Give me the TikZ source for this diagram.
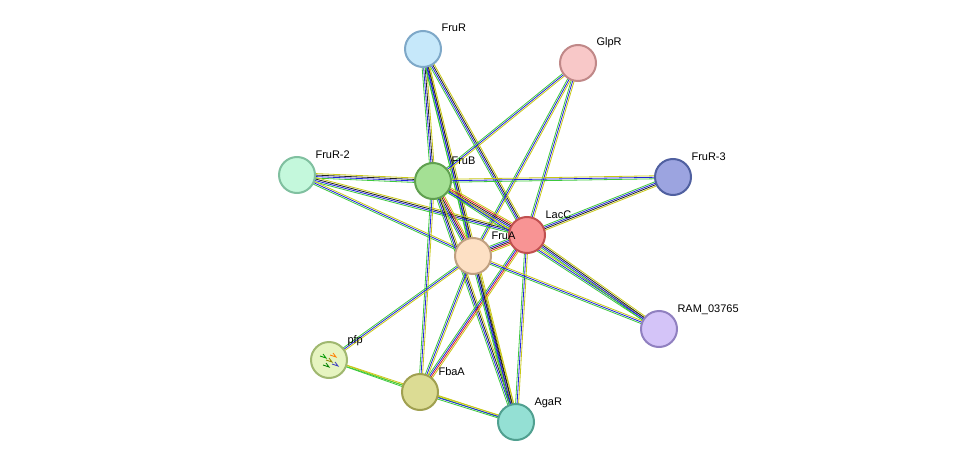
\documentclass[tikz,border=0pt]{standalone}
\usepackage{fontspec}
\setmainfont{Liberation Sans}
\usetikzlibrary{calc}
\pgfdeclarelayer{bg}\pgfsetlayers{bg,main}
\definecolor{G}{HTML}{3CC83C}\definecolor{B}{HTML}{2020E0}\definecolor{K}{HTML}{202020}
\definecolor{Y}{HTML}{C8C814}\definecolor{R}{HTML}{E02020}
\newcommand\edg[4]{\foreach \c [count=\i] in {#4}{\pgfmathsetmacro\o{(\i-(#3+1)/2)*1.5}\draw[\c,line width=0.8pt] ($(#1)!\o pt!90:(#2)$) -- ($(#2)!\o pt!-90:(#1)$);}}
\tikzset{prot/.style 2 args={circle,minimum size=36pt,inner sep=0,line width=2pt,fill=#1,draw=#2},
 lab/.style={font=\fontsize{11}{13}\selectfont,anchor=base west}}
\begin{document}
\begin{tikzpicture}[x=1pt,y=-1pt]
\useasboundingbox (0,0) rectangle (976,468);
\def\nd#1#2#3#4#5#6{\definecolor{f#1}{HTML}{#4}\definecolor{d#1}{HTML}{#5}\node[prot={f#1}{d#1}] (#1) at (#2,#3) {}; \node[lab] (#1l) at (#2+15,#3-17) {#6};}
\nd{frur}{423}{49}{C6E8FA}{7EA8C8}{FruR}
\nd{glpr}{578}{63}{F8C8C8}{C08888}{GlpR}
\nd{frur2}{297}{175}{C4F8DC}{80C0A0}{FruR-2}
\nd{frub}{433}{181}{A4E094}{60A050}{FruB}
\nd{frur3}{673}{177}{9CA4E0}{5060A0}{FruR-3}
\nd{lacc}{527}{235}{F89494}{C05050}{LacC}
\nd{frua}{473}{256}{FDE0C4}{C0A080}{FruA}
\nd{ram}{659}{329}{D4C4F8}{9080C0}{RAM\_03765}
\nd{pfp}{329}{360}{E6F4C0}{A0B870}{pfp}
\nd{fbaa}{420}{392}{DCDC94}{A0A050}{FbaA}
\nd{agar}{516}{422}{94E0D4}{50A090}{AgaR}
\begin{pgfonlayer}{bg}
\edg{frur}{frub}{4}{G,B,K,Y}
\edg{frur}{lacc}{4}{G,B,K,Y}
\edg{frur}{frua}{3}{G,B,Y}
\edg{frur}{agar}{4}{G,B,K,Y}
\edg{glpr}{frub}{3}{G,B,Y}
\edg{glpr}{lacc}{3}{G,B,Y}
\edg{glpr}{frua}{3}{G,B,Y}
\edg{frur2}{frub}{4}{G,B,K,Y}
\edg{frur2}{lacc}{4}{G,B,K,Y}
\edg{frur2}{frua}{3}{G,B,Y}
\edg{frub}{frur3}{3}{G,B,Y}
\edg{frub}{lacc}{5}{G,B,K,R,Y}
\edg{frub}{frua}{5}{G,B,K,R,Y}
\edg{frub}{fbaa}{3}{G,B,Y}
\edg{frub}{agar}{4}{G,B,K,Y}
\edg{frub}{ram}{3}{G,B,Y}
\edg{frur3}{lacc}{4}{G,B,K,Y}
\edg{lacc}{frua}{5}{G,B,K,R,Y}
\edg{lacc}{ram}{4}{G,B,K,Y}
\edg{lacc}{fbaa}{4}{G,B,R,Y}
\edg{lacc}{agar}{3}{G,B,Y}
\edg{frua}{ram}{3}{G,B,Y}
\edg{frua}{pfp}{3}{G,B,Y}
\edg{frua}{fbaa}{3}{G,B,Y}
\edg{frua}{agar}{4}{G,B,K,Y}
\edg{pfp}{fbaa}{2}{G,Y}
\edg{pfp}{agar}{2}{G,Y}
\edg{fbaa}{agar}{3}{G,B,Y}
\end{pgfonlayer}
\foreach \dx/\dy/\cc in {-6/-4/green!60!black,4/-5/orange,-3/5/green!50!black,6/4/blue!50!gray,0/0/olive}
  \draw[\cc,line width=0.8pt] ($(pfp)+(\dx-3,\dy)$) -- ++(6,2) -- ++(-3,-4);
\end{tikzpicture}
\end{document}
